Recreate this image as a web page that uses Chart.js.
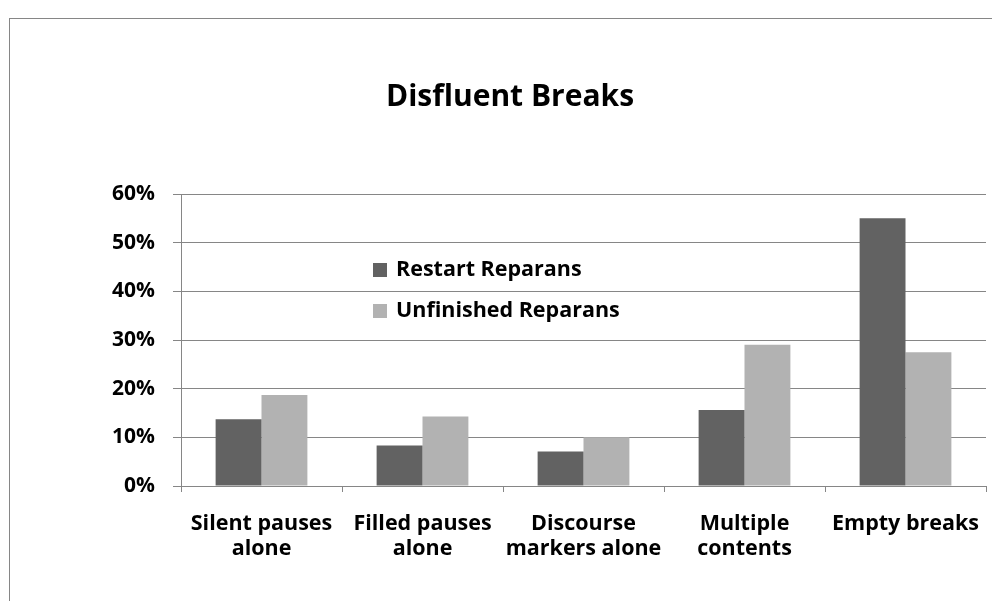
<!DOCTYPE html>
<html>
<head>
<meta charset="utf-8">
<title>Disfluent Breaks</title>
<script src="https://cdn.jsdelivr.net/npm/chart.js@4.4.1/dist/chart.umd.min.js"></script>
<style>
  html, body { margin: 0; padding: 0; background: #ffffff; }
  #wrap { position: relative; width: 992px; height: 601px; }
</style>
</head>
<body>
<div id="wrap"><canvas id="chart" width="992" height="601"></canvas></div>
<script>
// categories (two-line labels as in the original)
var categories = [
  ['Silent pauses', 'alone'],
  ['Filled pauses', 'alone'],
  ['Discourse', 'markers alone'],
  ['Multiple', 'contents'],
  ['Empty breaks']
];

// values in percent
var restartValues = [13.7, 8.3, 7.1, 15.6, 55.0];
var unfinishedValues = [18.7, 14.3, 10.0, 29.0, 27.5];

var seriesNames = ['Restart Reparans', 'Unfinished Reparans'];
var chartTitle = 'Disfluent Breaks';
var yTicks = [0, 10, 20, 30, 40, 50, 60];

var FONT = '"Open Sans", Carlito, Calibri, sans-serif';
var GRID = '#868686';

// frame around the chart (left and top edges are visible in the picture)
var framePlugin = {
  id: 'frame',
  beforeDraw: function (chart) {
    var ctx = chart.ctx;
    ctx.save();
    ctx.fillStyle = '#ffffff';
    ctx.fillRect(0, 0, chart.width, chart.height);
    ctx.strokeStyle = GRID;
    ctx.lineWidth = 1;
    ctx.strokeRect(9.5, 18.5, chart.width + 20, chart.height + 20);
    ctx.restore();
  }
};

// legend sits inside the plot area
var innerLegend = {
  id: 'innerLegend',
  afterDraw: function (chart) {
    var ctx = chart.ctx;
    var area = chart.chartArea;
    var x = area.left + 192;
    var y = area.top + 76;
    ctx.save();
    ctx.font = 'bold 21.5px ' + FONT;
    ctx.textBaseline = 'middle';
    chart.data.datasets.forEach(function (ds, i) {
      var cy = y + i * 41;
      ctx.fillStyle = ds.backgroundColor;
      ctx.fillRect(x, cy - 7, 14, 14);
      ctx.fillStyle = '#000000';
      ctx.fillText(ds.label, x + 23, cy);
    });
    ctx.restore();
  }
};

new Chart(document.getElementById('chart'), {
  type: 'bar',
  data: {
    labels: categories,
    datasets: [
      { label: seriesNames[0], data: restartValues, backgroundColor: '#626262' },
      { label: seriesNames[1], data: unfinishedValues, backgroundColor: '#b2b2b2' }
    ]
  },
  options: {
    responsive: false,
    animation: false,
    events: [],
    categoryPercentage: 0.57,
    barPercentage: 1.0,
    layout: { padding: { left: 34, right: 6, top: 0, bottom: 0 } },
    plugins: {
      legend: { display: false },
      tooltip: { enabled: false },
      title: {
        display: true,
        text: chartTitle,
        color: '#000000',
        font: { family: FONT, size: 30, weight: 'bold', lineHeight: 1.2 },
        padding: { top: 79, bottom: 79 }
      }
    },
    scales: {
      x: {
        offset: true,
        border: { color: GRID, width: 1 },
        grid: { offset: true, drawOnChartArea: false, drawTicks: true, tickLength: 6, color: GRID },
        ticks: {
          color: '#000000',
          maxRotation: 0,
          autoSkip: false,
          padding: 19,
          font: { family: FONT, size: 21.5, weight: 'bold', lineHeight: 1.16 }
        },
        afterFit: function (scale) {
          scale.height = 115;
          // labels fit inside their categories, no extra side room needed
          scale.paddingLeft = 0;
          scale.paddingRight = 0;
        }
      },
      y: {
        min: 0,
        max: 60,
        border: { color: GRID, width: 1 },
        grid: { color: GRID, lineWidth: 1, tickLength: 8 },
        afterBuildTicks: function (scale) {
          scale.ticks = yTicks.map(function (v) { return { value: v }; });
        },
        ticks: {
          color: '#000000',
          padding: 18,
          font: { family: FONT, size: 21, weight: 'bold' },
          callback: function (v) { return v + '%'; }
        },
        afterFit: function (scale) { scale.width = 147; }
      }
    }
  },
  plugins: [framePlugin, innerLegend]
});
</script>
</body>
</html>
